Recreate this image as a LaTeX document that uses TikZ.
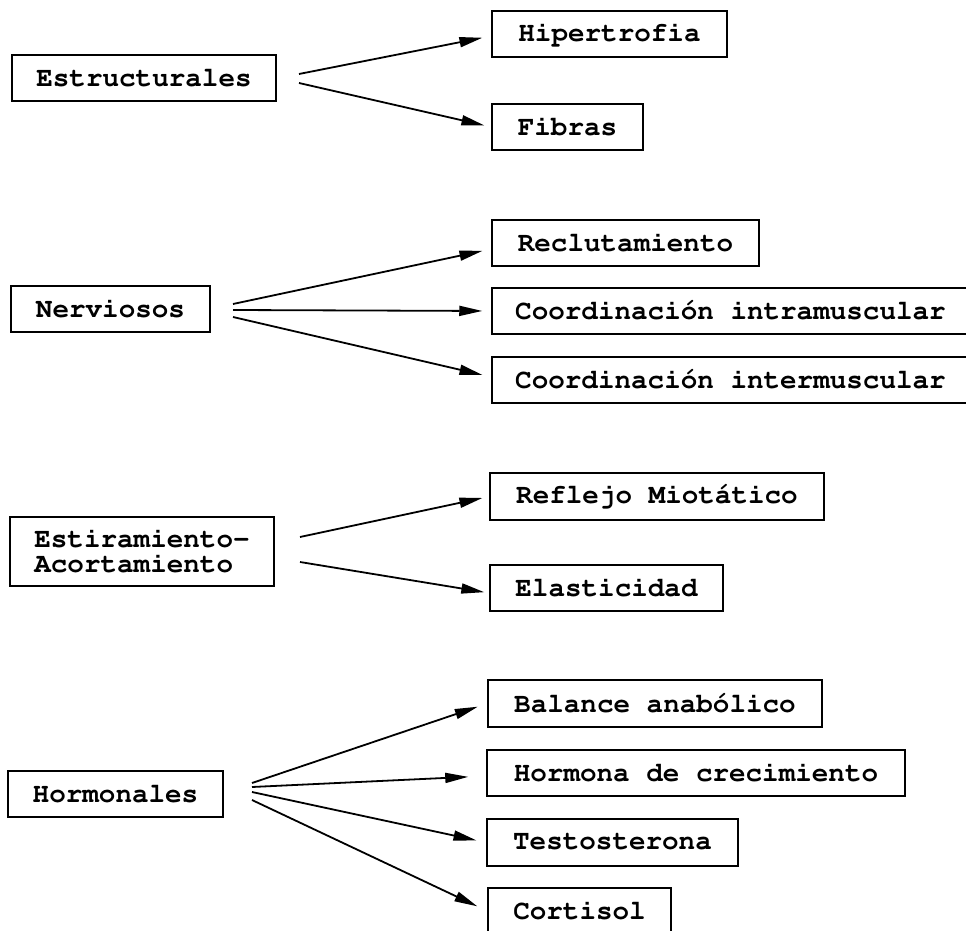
\documentclass[tikz,border=0pt]{standalone}
\usepackage[T1]{fontenc}
\usepackage{courier}
\usetikzlibrary{arrows.meta}
\begin{document}
\begin{tikzpicture}[x=1pt,y=-1pt,
  box/.style={draw, line width=1.5pt, minimum height=46pt, inner sep=0pt,
    font=\ttfamily\bfseries\fontsize{27.6}{25}\selectfont},
  arr/.style={line width=1.8pt, -{Triangle[length=23pt,width=10pt]}, shorten >=9pt}]
\useasboundingbox (0,0) rectangle (966,931);
\fill[white] (0,0) rectangle (966,931);

% sources
\node[box, minimum width=264pt] (estr) at (144,78) {Estructurales};
\node[box, minimum width=199pt] (nerv) at (110.5,309) {Nerviosos};
\node[box, minimum width=264pt, minimum height=69pt, align=left] (esti) at (142,551.5)
  {Estiramiento-\\Acortamiento};
\node[box, minimum width=215pt] (horm) at (115.5,794) {Hormonales};

% targets
\node[box, minimum width=235pt] (hip) at (609.5,34) {Hipertrofia};
\node[box, minimum width=151pt] (fib) at (567.5,127) {Fibras};
\node[box, minimum width=267pt] (rec) at (625.5,243) {Reclutamiento};
\node[box, minimum width=477pt] (intra) at (730.5,311) {Coordinaci\'on intramuscular};
\node[box, minimum width=477pt] (inter) at (730.5,380) {Coordinaci\'on intermuscular};
\node[box, minimum width=334pt, minimum height=47pt] (refl) at (657,496.5) {Reflejo Miot\'atico};
\node[box, minimum width=233pt] (elas) at (606.5,588) {Elasticidad};
\node[box, minimum width=334pt, minimum height=47pt] (bal) at (655,703.5) {Balance anab\'olico};
\node[box, minimum width=418pt] (hcre) at (696,773) {Hormona de crecimiento};
\node[box, minimum width=251pt, minimum height=47pt] (test) at (612.5,842.5) {Testosterona};
\node[box, minimum width=183pt] (cort) at (579.5,911) {Cortisol};

% arrow start points
\coordinate (e1) at (299,74);
\coordinate (e2) at (299,83);
\coordinate (n1) at (233,304);
\coordinate (n2) at (233,310);
\coordinate (n3) at (233,317);
\coordinate (s1) at (300,537);
\coordinate (s2) at (300,562);
\coordinate (h1) at (252,783);
\coordinate (h2) at (252,787);
\coordinate (h3) at (252,792);
\coordinate (h4) at (252,800);

% connectors
\draw[arr] (e1) -- ([yshift=-2pt]hip.west);
\draw[arr, shorten >=7pt] (e2) -- (fib.west);
\draw[arr] (n1) -- ([yshift=-6pt]rec.west);
\draw[arr] (n2) -- (intra.west);
\draw[arr] (n3) -- ([yshift=3pt]inter.west);
\draw[arr, shorten >=7pt] (s1) -- (refl.west);
\draw[arr, shorten >=5pt] (s2) -- ([yshift=-5pt]elas.west);
\draw[arr, shorten >=10pt] (h1) -- (bal.west);
\draw[arr, shorten >=18pt] (h2) -- ([yshift=-3pt]hcre.west);
\draw[arr, shorten >=10pt] (h3) -- (test.west);
\draw[arr, shorten >=11pt] (h4) -- (cort.west);
\end{tikzpicture}
\end{document}
